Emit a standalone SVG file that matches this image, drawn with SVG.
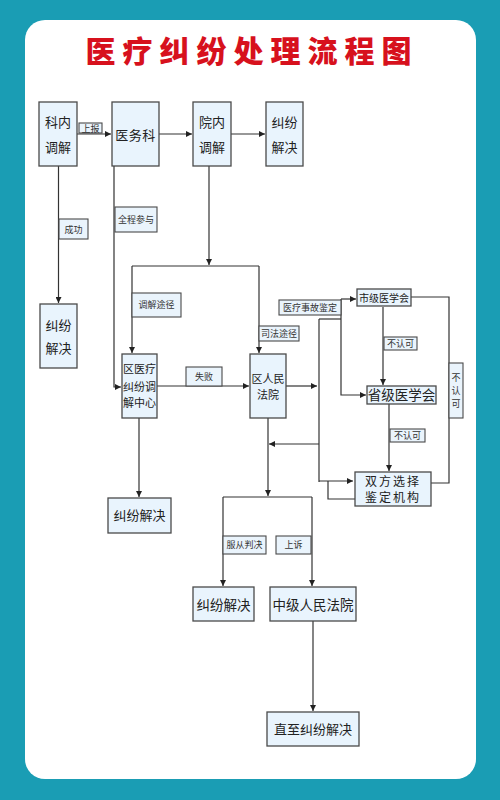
<svg xmlns="http://www.w3.org/2000/svg" width="500" height="800" viewBox="0 0 500 800">
<defs>
<marker id="ah" viewBox="0 0 10 10" refX="10" refY="5" markerWidth="6" markerHeight="6" orient="auto" markerUnits="userSpaceOnUse">
<path d="M0,0 L10,5 L0,10 z" fill="#222"/>
</marker>
<style>
.bg{fill:#1a9db4}
.panel{fill:#ffffff}
.title{font-family:"Noto Sans CJK SC","Noto Sans CJK TC",sans-serif;font-weight:900;font-size:30px;fill:#d7111d;letter-spacing:7px;text-anchor:middle}
.node rect{fill:#e9f4fd;stroke:#4a4a4a;stroke-width:1.3}
.node text{font-family:"Noto Sans CJK SC","Noto Sans CJK TC",sans-serif;font-size:13px;fill:#222;text-anchor:middle}
.lbl rect{fill:#eaf4fc;stroke:#4a4a4a;stroke-width:1.1}
.lbl text{font-family:"Noto Sans CJK SC","Noto Sans CJK TC",sans-serif;font-size:9px;fill:#333;text-anchor:middle}
.c path{fill:none;stroke:#333;stroke-width:1.2}
.c .a{marker-end:url(#ah)}
</style>
</defs>
<rect class="bg" x="0" y="0" width="500" height="800"/>
<rect class="panel" x="25" y="20" width="451" height="759" rx="20" ry="20"/>
<text class="title" x="252" y="62">医疗纠纷处理流程图</text>

<g id="connectors" class="c">
<path class="a" d="M77,134 H111"/>
<path class="a" d="M159,134 H192"/>
<path class="a" d="M231,134 H265"/>
<path class="a" d="M58.5,166 V303"/>
<path class="a" d="M114,166 V387 H121"/>
<path class="a" d="M209,166 V265"/>
<path d="M132,266 H259"/>
<path class="a" d="M132,266 V353"/>
<path class="a" d="M259,266 V353"/>
<path class="a" d="M157,386 H249"/>
<path class="a" d="M139,418 V497"/>
<path class="a" d="M268,418 V496"/>
<path d="M223,497 H312"/>
<path class="a" d="M223,497 V586"/>
<path class="a" d="M312,497 V586"/>
<path class="a" d="M313,621 V711"/>
<path class="a" d="M286,386 H317"/>
<path d="M319,319 V482"/>
<path d="M319,319 H341"/>
<path class="a" d="M319,444 H269"/>
<path class="a" d="M319,481 H353"/>
<path d="M355,499 H328 V481"/>
<path class="a" d="M341,299 H356"/>
<path class="a" d="M341,299 V395 H366"/>
<path class="a" d="M383,307 V385"/>
<path class="a" d="M389,404 V471"/>
<path d="M411,297 H449 V483 H431"/>
</g>

<g id="lbl-shangbao" class="lbl"><rect x="79" y="123" width="23" height="10"/><text x="90.5" y="131.5">上报</text></g>
<g id="lbl-chenggong" class="lbl"><rect x="59" y="219" width="29" height="20"/><text x="73.5" y="232.5">成功</text></g>
<g id="lbl-quancheng" class="lbl"><rect x="115" y="207" width="42" height="25"/><text x="136" y="222.5">全程参与</text></g>
<g id="lbl-tiaojie" class="lbl"><rect x="132" y="293" width="49" height="24"/><text x="156.5" y="308">调解途径</text></g>
<g id="lbl-sifa" class="lbl"><rect x="259" y="326" width="40" height="15"/><text x="279" y="336.5">司法途径</text></g>
<g id="lbl-shibai" class="lbl"><rect x="186" y="367" width="36" height="19"/><text x="204" y="379.5">失败</text></g>
<g id="lbl-shigu" class="lbl"><rect x="279" y="300" width="62" height="15"/><text x="310" y="310.5">医疗事故鉴定</text></g>
<g id="lbl-burenke1" class="lbl"><rect x="384" y="337" width="33" height="13"/><text x="400.5" y="346.5">不认可</text></g>
<g id="lbl-burenke2" class="lbl"><rect x="390" y="429" width="35" height="13"/><text x="407.5" y="438.5">不认可</text></g>
<g id="lbl-burenke3" class="lbl"><rect x="449" y="363" width="14" height="55"/><text x="456" y="381">不</text><text x="456" y="394">认</text><text x="456" y="407">可</text></g>
<g id="lbl-fucong" class="lbl"><rect x="223" y="536" width="43" height="18"/><text x="244.5" y="548">服从判决</text></g>
<g id="lbl-shangsu" class="lbl"><rect x="276" y="536" width="35" height="18"/><text x="293.5" y="548">上诉</text></g>

<g id="n-keneitiaojie" class="node"><rect x="39" y="102" width="38" height="64"/><text x="58" y="126.5">科内</text><text x="58" y="151.5">调解</text></g>
<g id="n-yiwuke" class="node"><rect x="112" y="102" width="47" height="64"/><text x="135.5" y="139.5" style="letter-spacing:0.5px">医务科</text></g>
<g id="n-yuanneitiaojie" class="node"><rect x="193" y="102" width="38" height="64"/><text x="212" y="126.5">院内</text><text x="212" y="151.5">调解</text></g>
<g id="n-jiufen1" class="node"><rect x="266" y="102" width="37" height="64"/><text x="284.5" y="126.5">纠纷</text><text x="284.5" y="151.5">解决</text></g>
<g id="n-jiufen2" class="node"><rect x="40" y="304" width="37" height="64"/><text x="58.5" y="329.5">纠纷</text><text x="58.5" y="353">解决</text></g>
<g id="n-quyiliao" class="node"><rect x="122" y="354" width="35" height="64"/><text x="139.5" y="373" style="font-size:11px">区医疗</text><text x="139.5" y="390.5" style="font-size:11px">纠纷调</text><text x="139.5" y="407" style="font-size:11px">解中心</text></g>
<g id="n-qurenmin" class="node"><rect x="250" y="354" width="36" height="64"/><text x="268" y="383" style="font-size:11px">区人民</text><text x="268" y="399" style="font-size:11px">法院</text></g>
<g id="n-shiji" class="node"><rect x="357" y="289" width="54" height="17"/><text x="384" y="301.5" style="font-size:10px">市级医学会</text></g>
<g id="n-shengji" class="node"><rect x="367" y="386" width="69" height="18"/><text x="401.5" y="400" style="font-size:13.5px">省级医学会</text></g>
<g id="n-shuangfang" class="node"><rect x="355" y="472" width="76" height="34"/><text x="393" y="485.5" style="font-size:12px;letter-spacing:2px">双方选择</text><text x="393" y="501.5" style="font-size:12px;letter-spacing:2px">鉴定机构</text></g>
<g id="n-jiufen3" class="node"><rect x="108" y="498" width="63" height="35"/><text x="139.5" y="520">纠纷解决</text></g>
<g id="n-jiufen4" class="node"><rect x="193" y="587" width="61" height="34"/><text x="223.5" y="609.5" style="font-size:13.5px">纠纷解决</text></g>
<g id="n-zhongji" class="node"><rect x="270" y="587" width="86" height="34"/><text x="313" y="609.5" style="font-size:13.5px">中级人民法院</text></g>
<g id="n-zhizhi" class="node"><rect x="267" y="712" width="92" height="34"/><text x="313" y="733.5">直至纠纷解决</text></g>
</svg>
